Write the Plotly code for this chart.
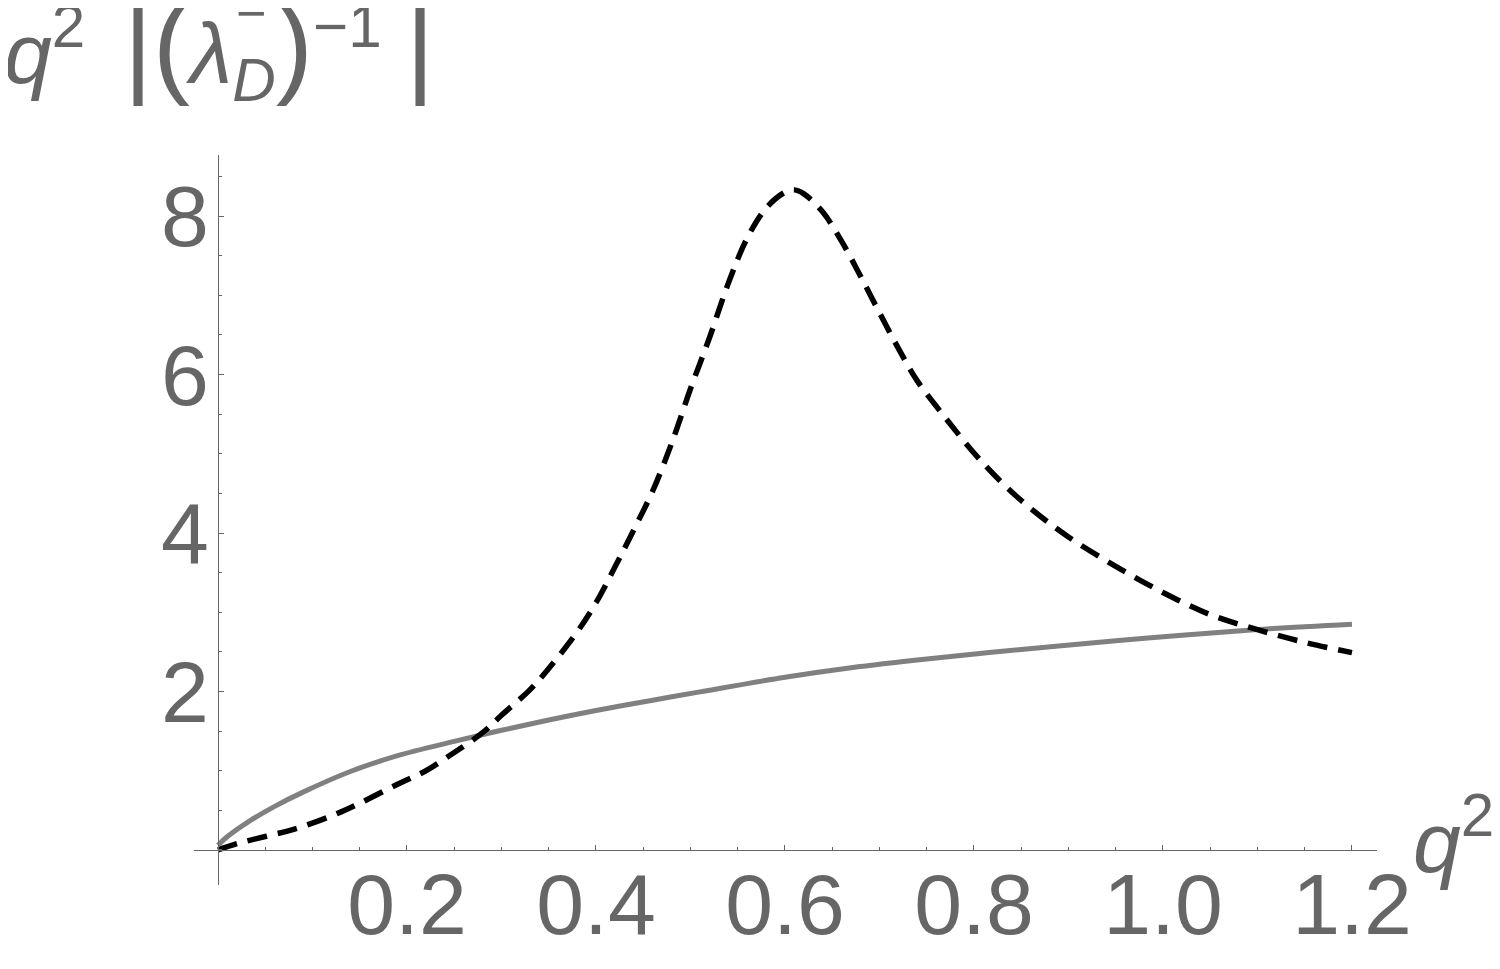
"""Inverse Debye-length style plot: q^2 |(lambda_D^-)^-1| against q^2."""
import plotly.graph_objects as go

# dashed black curve
Q2_DASH = [0.0, 0.02, 0.05, 0.08, 0.12, 0.15, 0.19, 0.22, 0.25, 0.28, 0.30,
           0.33, 0.35, 0.38, 0.40, 0.42, 0.44, 0.46, 0.48, 0.50, 0.52, 0.54,
           0.56, 0.58, 0.60, 0.61, 0.62, 0.64, 0.66, 0.68, 0.70, 0.72, 0.74,
           0.77, 0.80, 0.83, 0.86, 0.90, 0.95, 1.00, 1.05, 1.10, 1.15, 1.20]
VAL_DASH = [0.0, 0.08, 0.17, 0.26, 0.43, 0.59, 0.83, 1.00, 1.23, 1.48, 1.70,
            2.02, 2.29, 2.75, 3.12, 3.57, 4.04, 4.53, 5.13, 5.82, 6.46, 7.15,
            7.72, 8.10, 8.30, 8.33, 8.28, 8.05, 7.68, 7.24, 6.78, 6.33, 5.92,
            5.45, 5.01, 4.63, 4.31, 3.95, 3.58, 3.25, 2.97, 2.78, 2.62, 2.49]

# solid grey curve
Q2_SOLID = [0.0, 0.01, 0.03, 0.06, 0.09, 0.14, 0.19, 0.25, 0.30, 0.35, 0.40,
            0.46, 0.51, 0.60, 0.67, 0.75, 0.85, 0.95, 1.02, 1.11, 1.20]
VAL_SOLID = [0.06, 0.17, 0.34, 0.55, 0.73, 0.99, 1.19, 1.37, 1.51, 1.64, 1.76,
             1.89, 1.995, 2.18, 2.30, 2.41, 2.53, 2.64, 2.71, 2.79, 2.85]

X_TICKS = [0.2, 0.4, 0.6, 0.8, 1.0, 1.2]
X_TICK_TEXT = ["0.2", "0.4", "0.6", "0.8", "1.0", "1.2"]
Y_TICKS = [2, 4, 6, 8]

FONT = "Liberation Sans, Arial, sans-serif"
INK = "#666666"

fig = go.Figure()
fig.add_trace(go.Scatter(
    x=Q2_SOLID, y=VAL_SOLID, mode="lines", line_shape="spline",
    line=dict(color="#808080", width=5), showlegend=False,
))
fig.add_trace(go.Scatter(
    x=Q2_DASH, y=VAL_DASH, mode="lines", line_shape="spline",
    line=dict(color="black", width=5.5, dash="20px,11px"), showlegend=False,
))

axis_common = dict(
    showgrid=False, zeroline=False, showline=True, automargin=False,
    linecolor=INK, linewidth=1,
    ticks="inside", ticklen=5, tickwidth=1, tickcolor=INK,
    tickfont=dict(family=FONT, size=86, color=INK),
)

# page body adds ~8px offset, so margins are trimmed by 8 on left/top
fig.update_layout(
    width=1500, height=969,
    margin=dict(l=186, r=131, t=147, b=92),
    paper_bgcolor="white", plot_bgcolor="white",
    xaxis=dict(
        range=[-0.0254, 1.2265], anchor="free", position=0.0478,
        tickmode="array", tickvals=X_TICKS, ticktext=X_TICK_TEXT,
        ticklabelstandoff=-20,
        minor=dict(tickmode="linear", tick0=0, dtick=0.05, ticks="inside",
                   ticklen=3, tickcolor=INK),
        **axis_common,
    ),
    yaxis=dict(
        range=[-0.442, 8.77], anchor="free", position=0.0203,
        tickmode="array", tickvals=Y_TICKS,
        ticklabelstandoff=-8,
        minor=dict(tickmode="linear", tick0=0, dtick=0.5, ticks="inside",
                   ticklen=3, tickcolor=INK),
        **axis_common,
    ),
)

# y-axis label (top left)
fig.add_annotation(
    xref="paper", yref="paper", x=-0.162, y=1.24, xanchor="left", yanchor="top",
    showarrow=False, font=dict(family=FONT, size=86, color=INK),
    text=("<i>q</i><sup>2</sup>\u00a0\u2006<span style='font-size:112px'>|(</span>"
          "<i>λ</i><sub><i>D</i></sub>"
          "<span style='font-size:112px'>)</span><sup>−1</sup>"
          " <span style='font-size:112px'>|</span>"),
)
# the "−" sitting above the D subscript
fig.add_annotation(
    xref="paper", yref="paper", x=0.048, y=1.195, xanchor="center", yanchor="middle",
    showarrow=False, font=dict(family=FONT, size=52, color=INK), text="−",
)
# x-axis label (right end)
fig.add_annotation(
    xref="paper", yref="paper", x=1.029, y=0.067, xanchor="left", yanchor="middle",
    showarrow=False, font=dict(family=FONT, size=86, color=INK),
    text="<i>q</i><sup>2</sup>",
)

fig.write_html("out.html")
